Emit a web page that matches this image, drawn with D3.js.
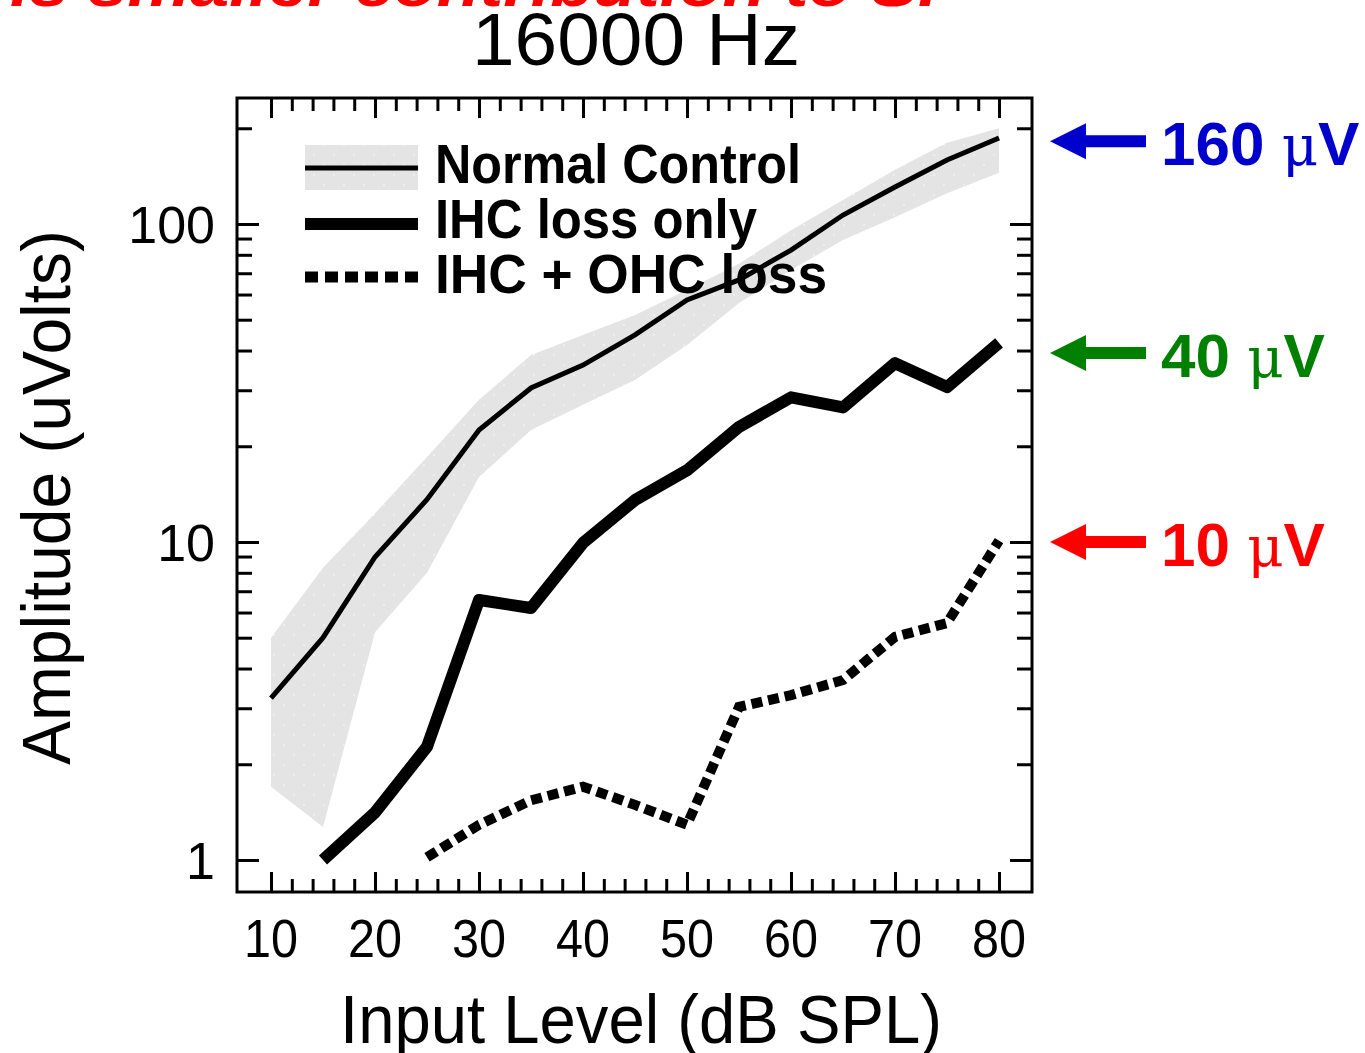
<!DOCTYPE html>
<html>
<head>
<meta charset="utf-8">
<script src="https://cdn.jsdelivr.net/npm/d3@7"></script>
<style>
  body { margin: 0; background: #fff; }
  svg { display: block; }
</style>
</head>
<body>
<svg id="chartSvg" width="1365" height="1053"></svg>
<script>
// input levels (dB SPL)
const levels = [10, 15, 20, 25, 30, 35, 40, 45, 50, 55, 60, 65, 70, 75, 80];
// normal control mean and band (uV)
const normalMean = [3.23, 5.0, 8.97, 13.6, 22.5, 30.5, 36, 44.8, 57.7, 66.7, 82.8, 106.7, 130.7, 158.9, 186.3];
const normalUpper = [5.0, 8.3, 12.3, 18.5, 28, 38.7, 44.8, 51.7, 62, 75, 95.6, 119, 148, 180, 200];
const normalLower = [1.70, 1.27, 5.2, 8.0, 16, 22.5, 27, 32.3, 41.6, 56.4, 71.7, 89, 105, 125, 145];
// IHC loss only, from 15 dB
const ihcLevels = [15, 20, 25, 30, 35, 40, 45, 50, 55, 60, 65, 70, 75, 80];
const ihcOnly = [1.0, 1.41, 2.27, 6.57, 6.2, 9.93, 13.55, 16.8, 23, 28.5, 26.5, 36.5, 30.7, 42.3];
// IHC + OHC loss, from 25 dB
const bothLevels = [25, 30, 35, 40, 45, 50, 55, 60, 65, 70, 75, 80];
const ihcOhc = [1.02, 1.29, 1.54, 1.70, 1.49, 1.29, 3.03, 3.30, 3.68, 5.03, 5.56, 10.1];

const xTickLabels = [10, 20, 30, 40, 50, 60, 70, 80];
const yTickLabels = [1, 10, 100];
const legendNames = ["Normal Control", "IHC loss only", "IHC + OHC loss"];
// arrows on the right: where they point (uV on the axis) and their labels
const markerAt = [182, 39.3, 10];
const markerLabels = ["160 ", "40 ", "10 "];
const markerColors = ["#0000cc", "#008000", "#ff0000"];

const svg = d3.select("#chartSvg");
const plotLeft = 237, plotRight = 1032, plotTop = 98, plotBottom = 892;

const x = d3.scaleLinear().domain([6.73, 83.17]).range([plotLeft, plotRight]);
const y = d3.scaleLog().domain([0.793, 249]).range([plotBottom, plotTop]);

// dotted texture for the normal band
const defs = svg.append("defs");
const pat = defs.append("pattern")
    .attr("id", "band")
    .attr("width", 20).attr("height", 20)
    .attr("patternUnits", "userSpaceOnUse");
pat.append("rect").attr("width", 20).attr("height", 20).attr("fill", "#e4e4e4");
pat.append("rect").attr("x", 3).attr("y", 4).attr("width", 2).attr("height", 2).attr("fill", "#eeeeee");
pat.append("rect").attr("x", 13).attr("y", 14).attr("width", 2).attr("height", 2).attr("fill", "#eeeeee");

// top red caption, mostly cut off by the top edge
svg.append("text")
    .attr("x", 10).attr("y", 6)
    .attr("font-family", "Liberation Sans, Arial, sans-serif")
    .attr("font-weight", "bold").attr("font-style", "italic")
    .attr("font-size", 62)
    .attr("fill", "#ff0000")
    .attr("textLength", 955).attr("lengthAdjust", "spacingAndGlyphs")
    .text("is smaller contribution to SP");

// title
svg.append("text")
    .attr("x", 472).attr("y", 65)
    .attr("font-family", "Liberation Sans, Arial, sans-serif")
    .attr("font-size", 74)
    .attr("textLength", 328).attr("lengthAdjust", "spacingAndGlyphs")
    .text("16000 Hz");

// band
const area = d3.area()
    .x((d, i) => x(levels[i]))
    .y0((d, i) => y(normalLower[i]))
    .y1((d, i) => y(normalUpper[i]));
svg.append("path")
    .datum(levels)
    .attr("d", area)
    .attr("fill", "url(#band)");

const line = d3.line().x(d => x(d[0])).y(d => y(d[1]));

svg.append("path")
    .datum(d3.zip(levels, normalMean))
    .attr("d", line)
    .attr("fill", "none").attr("stroke", "#000").attr("stroke-width", 5);

svg.append("path")
    .datum(d3.zip(ihcLevels, ihcOnly))
    .attr("d", line)
    .attr("fill", "none").attr("stroke", "#000").attr("stroke-width", 12)
    .attr("stroke-linejoin", "round");

svg.append("path")
    .datum(d3.zip(bothLevels, ihcOhc))
    .attr("d", line)
    .attr("fill", "none").attr("stroke", "#000").attr("stroke-width", 10)
    .attr("stroke-dasharray", "11,6");

// frame
svg.append("rect")
    .attr("x", plotLeft).attr("y", plotTop)
    .attr("width", plotRight - plotLeft).attr("height", plotBottom - plotTop)
    .attr("fill", "none").attr("stroke", "#000").attr("stroke-width", 3);

// x ticks (inside, top and bottom)
const xMinor = d3.range(10, 81, 2);
const xMajor = xTickLabels;
svg.append("g")
    .attr("transform", `translate(0,${plotBottom})`)
    .call(d3.axisBottom(x).tickValues(xMinor).tickSize(-13).tickFormat(""))
    .call(g => g.select(".domain").remove());
svg.append("g")
    .attr("transform", `translate(0,${plotBottom})`)
    .call(d3.axisBottom(x).tickValues(xMajor).tickSize(-20).tickFormat(""))
    .call(g => g.select(".domain").remove());
svg.append("g")
    .attr("transform", `translate(0,${plotTop})`)
    .call(d3.axisTop(x).tickValues(xMinor).tickSize(-13).tickFormat(""))
    .call(g => g.select(".domain").remove());
svg.append("g")
    .attr("transform", `translate(0,${plotTop})`)
    .call(d3.axisTop(x).tickValues(xMajor).tickSize(-20).tickFormat(""))
    .call(g => g.select(".domain").remove());

// y ticks (inside, left and right)
const yMinor = [];
[1, 10, 100].forEach(dec => d3.range(2, 10).forEach(k => { if (dec * k < 249) yMinor.push(dec * k); }));
svg.append("g")
    .attr("transform", `translate(${plotLeft},0)`)
    .call(d3.axisLeft(y).tickValues(yMinor).tickSize(-15).tickFormat(""))
    .call(g => g.select(".domain").remove());
svg.append("g")
    .attr("transform", `translate(${plotLeft},0)`)
    .call(d3.axisLeft(y).tickValues(yTickLabels).tickSize(-22).tickFormat(""))
    .call(g => g.select(".domain").remove());
svg.append("g")
    .attr("transform", `translate(${plotRight},0)`)
    .call(d3.axisRight(y).tickValues(yMinor).tickSize(-15).tickFormat(""))
    .call(g => g.select(".domain").remove());
svg.append("g")
    .attr("transform", `translate(${plotRight},0)`)
    .call(d3.axisRight(y).tickValues(yTickLabels).tickSize(-22).tickFormat(""))
    .call(g => g.select(".domain").remove());
svg.selectAll(".tick line").attr("stroke", "#000").attr("stroke-width", 3);

// tick labels
svg.append("g").selectAll("text")
    .data(xTickLabels)
    .enter().append("text")
    .attr("x", d => x(d)).attr("y", 957)
    .attr("text-anchor", "middle")
    .attr("font-family", "Liberation Sans, Arial, sans-serif")
    .attr("font-size", 54)
    .attr("textLength", 54).attr("lengthAdjust", "spacingAndGlyphs")
    .text(d => d);

svg.append("g").selectAll("text")
    .data(yTickLabels)
    .enter().append("text")
    .attr("x", 215).attr("y", d => y(d) + 19)
    .attr("text-anchor", "end")
    .attr("font-family", "Liberation Sans, Arial, sans-serif")
    .attr("font-size", 52)
    .text(d => d);

// axis titles
svg.append("text")
    .attr("x", 340).attr("y", 1043)
    .attr("font-family", "Liberation Sans, Arial, sans-serif")
    .attr("font-size", 68)
    .attr("textLength", 602).attr("lengthAdjust", "spacingAndGlyphs")
    .text("Input Level (dB SPL)");

svg.append("text")
    .attr("transform", "translate(70,765) rotate(-90)")
    .attr("font-family", "Liberation Sans, Arial, sans-serif")
    .attr("font-size", 68)
    .attr("textLength", 535).attr("lengthAdjust", "spacingAndGlyphs")
    .text("Amplitude (uVolts)");

// legend
const lg = svg.append("g");
lg.append("rect").attr("x", 305).attr("y", 145).attr("width", 113).attr("height", 45).attr("fill", "url(#band)");
lg.append("line").attr("x1", 305).attr("x2", 418).attr("y1", 168).attr("y2", 168)
    .attr("stroke", "#000").attr("stroke-width", 5);
lg.append("line").attr("x1", 305).attr("x2", 418).attr("y1", 224).attr("y2", 224)
    .attr("stroke", "#000").attr("stroke-width", 12);
lg.append("line").attr("x1", 305).attr("x2", 420).attr("y1", 277).attr("y2", 277)
    .attr("stroke", "#000").attr("stroke-width", 11).attr("stroke-dasharray", "13,7");
const legendLen = [366, 322, 392];
lg.selectAll("text.leg")
    .data(legendNames)
    .enter().append("text")
    .attr("x", 435).attr("y", (d, i) => 183 + i * 55)
    .attr("font-family", "Liberation Sans, Arial, sans-serif")
    .attr("font-weight", "bold")
    .attr("font-size", 56)
    .attr("textLength", (d, i) => legendLen[i]).attr("lengthAdjust", "spacingAndGlyphs")
    .text(d => d);

// reference arrows on the right
const ann = svg.append("g");
markerAt.forEach((v, i) => {
    const yy = y(v);
    const c = markerColors[i];
    ann.append("path")
        .attr("d", `M1050,${yy} L1086,${yy - 18} L1086,${yy - 6} L1146,${yy - 6} L1146,${yy + 6} L1086,${yy + 6} L1086,${yy + 18} Z`)
        .attr("fill", c);
    const t = ann.append("text")
        .attr("x", 1161).attr("y", yy + 24)
        .attr("font-family", "Liberation Sans, Arial, sans-serif")
        .attr("font-weight", "bold")
        .attr("font-size", 62)
        .attr("fill", c);
    t.append("tspan").text(markerLabels[i]);
    t.append("tspan")
        .attr("font-family", "DejaVu Serif, serif")
        .attr("font-weight", "normal")
        .attr("font-size", 56)
        .text("\u03bc");
    t.append("tspan").text("V");
});
</script>
</body>
</html>
